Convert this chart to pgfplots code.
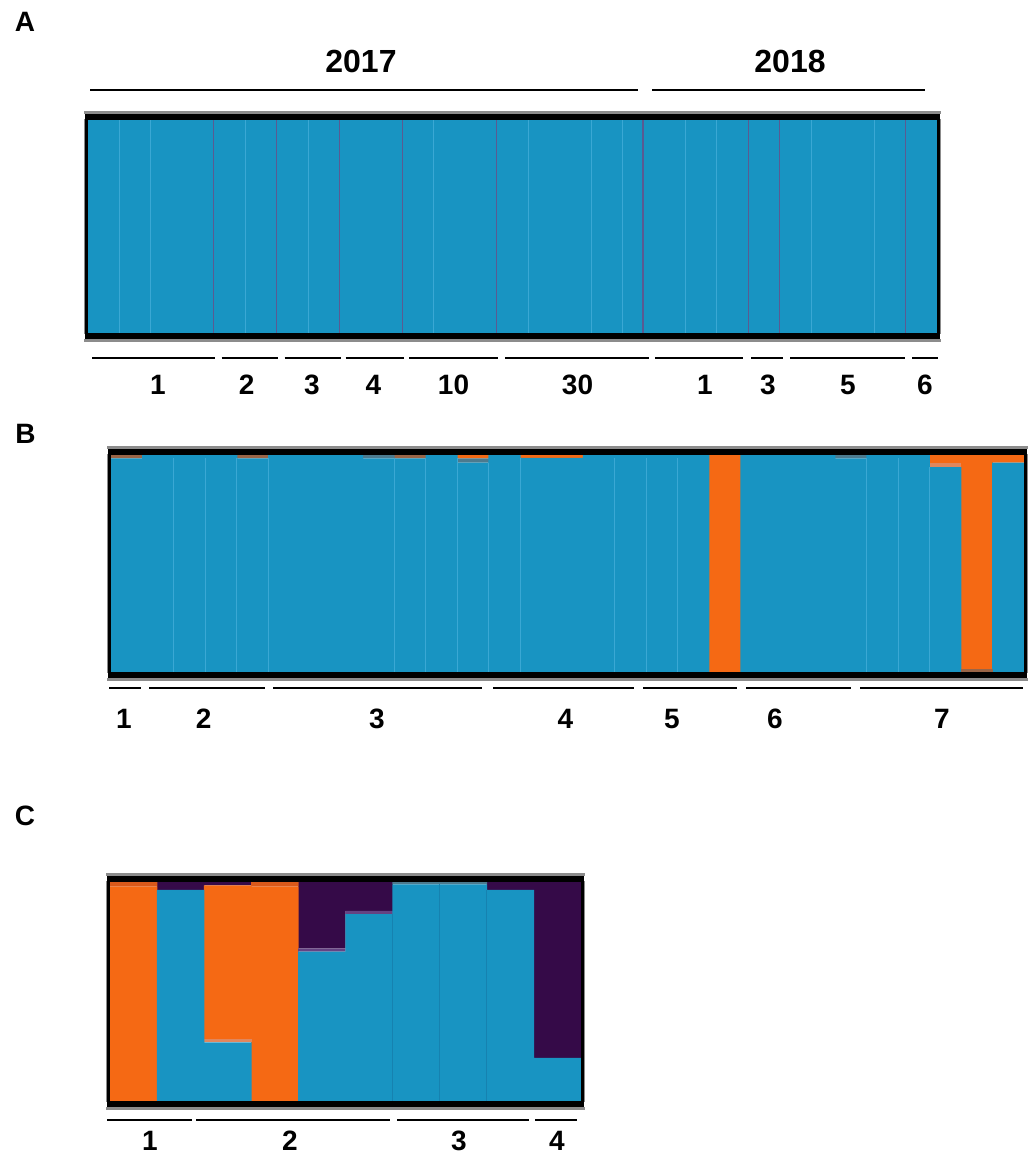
\documentclass[border=0pt]{standalone}
\usepackage{pgfplots}
\pgfplotsset{compat=1.18}
\usepackage{fontspec}
\setmainfont{Liberation Sans}
\definecolor{cblue}{HTML}{1894C2}
\definecolor{corange}{HTML}{F56914}
\definecolor{cpurple}{HTML}{350A48}
\definecolor{cbrown}{HTML}{9A6547}
\definecolor{cslate}{HTML}{4C7A8E}
\definecolor{cpaleor}{HTML}{E0875E}
\definecolor{cmauve}{HTML}{654383}
\definecolor{cdarkor}{HTML}{D9591A}
\definecolor{clight}{HTML}{3AA8D4}
\definecolor{cdark}{HTML}{5A5A92}
\definecolor{cdeep}{HTML}{1682B0}
\definecolor{cframe}{HTML}{8C8C8C}
\pgfplotsset{
  structbase/.style={scale only axis, hide axis, clip=false, ymin=0, ymax=1, anchor=south west},
  lay/.style={fill=#1, draw=none},
}
\newcommand{\frameit}{%
  \fill[cframe] ([xshift=-2.2pt,yshift=2.5pt]rel axis cs:0,1) rectangle ([xshift=2.2pt,yshift=4.2pt]rel axis cs:1,1);
  \fill[cframe] ([xshift=-2.2pt,yshift=-4.2pt]rel axis cs:0,0) rectangle ([xshift=2.2pt,yshift=-2.5pt]rel axis cs:1,0);
  \fill[cframe] ([xshift=-2.2pt]rel axis cs:0,0) rectangle ([xshift=-1.6pt]rel axis cs:0,1);
  \fill[cframe] ([xshift=1.6pt]rel axis cs:1,0) rectangle ([xshift=2.2pt]rel axis cs:1,1);
  \fill[black] ([xshift=-1.6pt,yshift=-0.3pt]rel axis cs:0,1) rectangle ([xshift=1.6pt,yshift=2.5pt]rel axis cs:1,1);
  \fill[black] ([xshift=-1.6pt,yshift=-2.5pt]rel axis cs:0,0) rectangle ([xshift=1.6pt,yshift=0.3pt]rel axis cs:1,0);
  \fill[black] ([xshift=-1.6pt]rel axis cs:0,0) rectangle (rel axis cs:0,1);
  \fill[black] (rel axis cs:1,0) rectangle ([xshift=1.6pt]rel axis cs:1,1);
}
\newcommand{\lab}{\fontsize{14pt}{16pt}\selectfont\bfseries}
\begin{document}
\begin{tikzpicture}
\path[use as bounding box] (0pt,0pt) rectangle (516pt,577pt);

% ---------------- Panel A ----------------
\begin{axis}[structbase, at={(44pt,410pt)}, width=424.5pt, height=107.5pt,
  xmin=0.5, xmax=27.5, ybar stacked, bar width=1.02]
\addplot[lay=cblue] coordinates {(1,1)(2,1)(3,1)(4,1)(5,1)(6,1)(7,1)(8,1)(9,1)(10,1)(11,1)(12,1)(13,1)(14,1)(15,1)(16,1)(17,1)(18,1)(19,1)(20,1)(21,1)(22,1)(23,1)(24,1)(25,1)(26,1)(27,1)};
\end{axis}
\begin{axis}[structbase, at={(44pt,410pt)}, width=424.5pt, height=107.5pt,
  xmin=0.5, xmax=27.5]
\addplot[ycomb, clight, line width=0.5pt, mark=none] coordinates {(1.5,1)(2.5,1)(5.5,1)(7.5,1)(11.5,1)(14.5,1)(16.5,1)(17.5,1)(19.5,1)(20.5,1)(23.5,1)(25.5,1)};
\addplot[ycomb, cdark, line width=0.6pt, mark=none] coordinates {(4.5,1)(6.5,1)(8.5,1)(10.5,1)(13.5,1)(18.15,1)(21.5,1)(22.5,1)(26.5,1)};
\frameit
\end{axis}

% ---------------- Panel B ----------------
\begin{axis}[structbase, at={(55.5pt,240.5pt)}, width=456.5pt, height=109.5pt,
  xmin=0.5, xmax=29.5, ybar stacked, bar width=1.02]
% bottom brown strip
\addplot[lay=cbrown] coordinates {(1,0)(2,0)(3,0)(4,0)(5,0)(6,0)(7,0)(8,0)(9,0)(10,0)(11,0)(12,0)(13,0)(14,0)(15,0)(16,0)(17,0)(18,0)(19,0)(20,0)(21,0)(22,0)(23,0)(24,0)(25,0)(26,0)(27,0)(28,0.018)(29,0)};
% blue cluster
\addplot[lay=cblue] coordinates {(1,0.98)(2,1)(3,1)(4,1)(5,0.98)(6,1)(7,1)(8,1)(9,0.98)(10,0.98)(11,1)(12,0.96)(13,1)(14,0.982)(15,0.982)(16,1)(17,1)(18,1)(19,1)(20,0)(21,1)(22,1)(23,1)(24,0.98)(25,1)(26,1)(27,0.94)(28,0)(29,0.96)};
% slate strip
\addplot[lay=cslate] coordinates {(1,0)(2,0)(3,0)(4,0)(5,0)(6,0)(7,0)(8,0)(9,0.02)(10,0)(11,0)(12,0.02)(13,0)(14,0)(15,0)(16,0)(17,0)(18,0)(19,0)(20,0)(21,0)(22,0)(23,0)(24,0.02)(25,0)(26,0)(27,0)(28,0)(29,0)};
% pale orange strip
\addplot[lay=cpaleor] coordinates {(1,0)(2,0)(3,0)(4,0)(5,0)(6,0)(7,0)(8,0)(9,0)(10,0)(11,0)(12,0)(13,0)(14,0)(15,0)(16,0)(17,0)(18,0)(19,0)(20,0)(21,0)(22,0)(23,0)(24,0)(25,0)(26,0)(27,0.018)(28,0)(29,0)};
% orange cluster
\addplot[lay=corange] coordinates {(1,0)(2,0)(3,0)(4,0)(5,0)(6,0)(7,0)(8,0)(9,0)(10,0)(11,0)(12,0.02)(13,0)(14,0.018)(15,0.018)(16,0)(17,0)(18,0)(19,0)(20,1)(21,0)(22,0)(23,0)(24,0)(25,0)(26,0)(27,0.042)(28,0.982)(29,0.04)};
% top brown strip
\addplot[lay=cbrown] coordinates {(1,0.02)(2,0)(3,0)(4,0)(5,0.02)(6,0)(7,0)(8,0)(9,0)(10,0.02)(11,0)(12,0)(13,0)(14,0)(15,0)(16,0)(17,0)(18,0)(19,0)(20,0)(21,0)(22,0)(23,0)(24,0)(25,0)(26,0)(27,0)(28,0)(29,0)};
\end{axis}
\begin{axis}[structbase, at={(55.5pt,240.5pt)}, width=456.5pt, height=109.5pt,
  xmin=0.5, xmax=29.5]
\addplot[ycomb, clight, line width=0.5pt, mark=none] coordinates {(2.5,0.98)(3.5,0.98)(4.5,0.98)(5.5,0.98)(9.5,0.98)(10.5,0.98)(11.5,0.98)(12.5,0.96)(13.5,0.98)(16.5,0.98)(17.5,0.98)(18.5,0.98)(24.5,0.98)(25.5,0.98)(26.5,0.94)};
\frameit
\end{axis}

% ---------------- Panel C ----------------
\begin{axis}[structbase, at={(55pt,26pt)}, width=235.5pt, height=110.5pt,
  xmin=0.5, xmax=10.5, ybar stacked, bar width=1.01]
\addplot[lay=cblue]   coordinates {(1,0)(2,0.96)(3,0.27)(4,0)(5,0.68)(6,0.85)(7,0.985)(8,0.985)(9,0.96)(10,0.20)};
\addplot[lay=cslate]  coordinates {(1,0)(2,0)(3,0)(4,0)(5,0)(6,0)(7,0.015)(8,0.015)(9,0)(10,0)};
\addplot[lay=cpaleor] coordinates {(1,0)(2,0)(3,0.015)(4,0)(5,0)(6,0)(7,0)(8,0)(9,0)(10,0)};
\addplot[lay=cmauve]  coordinates {(1,0)(2,0)(3,0)(4,0)(5,0.015)(6,0.015)(7,0)(8,0)(9,0)(10,0)};
\addplot[lay=corange] coordinates {(1,0.975)(2,0)(3,0.695)(4,0.975)(5,0)(6,0)(7,0)(8,0)(9,0)(10,0)};
\addplot[lay=cdarkor] coordinates {(1,0.025)(2,0)(3,0)(4,0.025)(5,0)(6,0)(7,0)(8,0)(9,0)(10,0)};
\addplot[lay=cpurple] coordinates {(1,0)(2,0.04)(3,0.02)(4,0)(5,0.305)(6,0.135)(7,0)(8,0)(9,0.04)(10,0.80)};
\end{axis}
\begin{axis}[structbase, at={(55pt,26pt)}, width=235.5pt, height=110.5pt,
  xmin=0.5, xmax=10.5]
\addplot[ycomb, cdeep, line width=0.4pt, mark=none] coordinates {(6.5,0.85)(7.5,0.985)(8.5,0.96)};
\frameit
\end{axis}

% ---------------- Annotations ----------------
\begin{scope}[font=\lab]
\node at (12.5pt,566pt) {A};
\node at (12.75pt,360.25pt) {B};
\node at (12.5pt,169.25pt) {C};
\node[font=\fontsize{16pt}{18pt}\selectfont\bfseries] at (180.5pt,546pt) {2017};
\node[font=\fontsize{16pt}{18pt}\selectfont\bfseries] at (395pt,546pt) {2018};
\end{scope}
\begin{scope}[line width=1.3pt]
\draw (45pt,532pt) -- (319pt,532pt);
\draw (326pt,532pt) -- (462.5pt,532pt);
% panel A underlines
\draw (46pt,398pt) -- (107.25pt,398pt);
\draw (110.85pt,398pt) -- (139.2pt,398pt);
\draw (142.25pt,398pt) -- (170.5pt,398pt);
\draw (172.85pt,398pt) -- (201.75pt,398pt);
\draw (204.5pt,398pt) -- (249pt,398pt);
\draw (252.5pt,398pt) -- (324.3pt,398pt);
\draw (327.5pt,398pt) -- (371.5pt,398pt);
\draw (375.7pt,398pt) -- (391.5pt,398pt);
\draw (395pt,398pt) -- (452.5pt,398pt);
\draw (456pt,398pt) -- (468.8pt,398pt);
% panel B underlines
\draw (54.5pt,233pt) -- (70.5pt,233pt);
\draw (74.5pt,233pt) -- (132.5pt,233pt);
\draw (136.5pt,233pt) -- (241pt,233pt);
\draw (246.5pt,233pt) -- (317pt,233pt);
\draw (321.5pt,233pt) -- (368.5pt,233pt);
\draw (373pt,233pt) -- (425.5pt,233pt);
\draw (430pt,233pt) -- (511.5pt,233pt);
% panel C underlines
\draw (53.5pt,17pt) -- (96pt,17pt);
\draw (98pt,17pt) -- (195pt,17pt);
\draw (198.5pt,17pt) -- (264.5pt,17pt);
\draw (267.5pt,17pt) -- (288.5pt,17pt);
\end{scope}
\begin{scope}[font=\lab]
% panel A labels
\node at (79pt,384.5pt) {1};
\node at (123.35pt,384.5pt) {2};
\node at (156pt,384.5pt) {3};
\node at (186.75pt,384.5pt) {4};
\node at (226.75pt,384.5pt) {10};
\node at (288.75pt,384.5pt) {30};
\node at (352.5pt,384.5pt) {1};
\node at (384pt,384.5pt) {3};
\node at (424pt,384.5pt) {5};
\node at (462.5pt,384.5pt) {6};
% panel B labels
\node at (62pt,217.5pt) {1};
\node at (101.85pt,217.5pt) {2};
\node at (188.5pt,217.5pt) {3};
\node at (282.75pt,217.5pt) {4};
\node at (336pt,217.5pt) {5};
\node at (387.5pt,217.5pt) {6};
\node at (471pt,217.5pt) {7};
% panel C labels
\node[inner sep=0pt] at (75pt,6.5pt) {1};
\node[inner sep=0pt] at (145pt,6.5pt) {2};
\node[inner sep=0pt] at (229.5pt,6.5pt) {3};
\node[inner sep=0pt] at (278.5pt,6.5pt) {4};
\end{scope}
\end{tikzpicture}
\end{document}
